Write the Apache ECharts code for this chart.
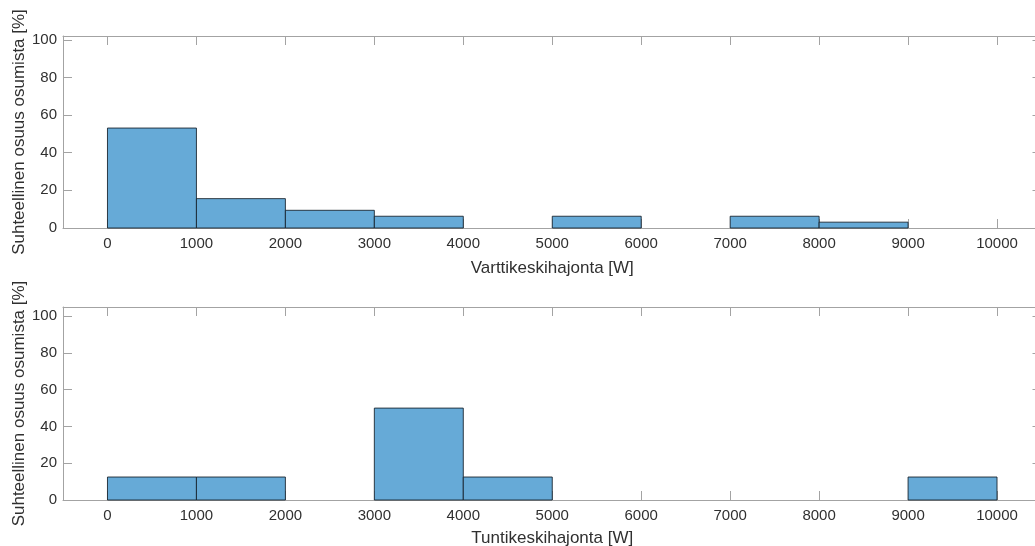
<!DOCTYPE html>
<html>
<head>
<meta charset="utf-8">
<script src="https://cdn.jsdelivr.net/npm/echarts@6/dist/echarts.min.js"></script>
<style>
    html, body { margin: 0; padding: 0; background: #fff; overflow: hidden; }
    #chart { width: 1042px; height: 546px; }
</style>
</head>
<body>
<div id="chart"></div>
<script>
// histogram bin edges (W) and relative shares (%)
const binEdges = [0, 1000, 2000, 3000, 4000, 5000, 6000, 7000, 8000, 9000, 10000]
const quarterShares = [53.1, 15.6, 9.4, 6.25, 0, 6.25, 0, 6.25, 3.1, 0]
const hourShares = [12.5, 12.5, 0, 50, 12.5, 0, 0, 0, 0, 12.5]
const xTicks = [0, 1000, 2000, 3000, 4000, 5000, 6000, 7000, 8000, 9000, 10000]
const yTicks = [0, 20, 40, 60, 80, 100]
const yNameText = 'Suhteellinen osuus osumista [%]'
const xNames = ['Varttikeskihajonta [W]', 'Tuntikeskihajonta [W]']

const font = 'Liberation Sans, Arial, Helvetica, sans-serif'
const textColor = '#303030'
const boxColor = '#a3a3a3'
const barFill = '#66aad7'

const chart = echarts.init(document.getElementById('chart'))

function binData(shares) {
    const out = []
    for (let i = 0; i < shares.length; i++) {
        if (shares[i] > 0) out.push([binEdges[i], binEdges[i + 1], shares[i]])
    }
    return out
}

function renderBin(params, api) {
    const p0 = api.coord([api.value(0), api.value(2)])
    const p1 = api.coord([api.value(1), 0])
    return {
        type: 'rect',
        shape: { x: p0[0], y: p0[1], width: p1[0] - p0[0], height: p1[1] - p0[1] },
        style: { fill: barFill, stroke: 'rgba(20,30,40,0.85)', lineWidth: 1 },
    }
}

const grids = [
    { left: 63, top: 36, width: 978.5, height: 192, outerBoundsMode: 'none', containLabel: false },
    { left: 63, top: 307, width: 978.5, height: 193, outerBoundsMode: 'none', containLabel: false },
]
const yMax = [102, 105]
const xNameGap = [32, 30]

const xAxis = []
const yAxis = []
const series = []
for (let g = 0; g < 2; g++) {
    // bottom x axis with labels
    xAxis.push({
        type: 'value', gridIndex: g, min: -500, max: 10500, position: 'bottom',
        splitLine: { show: false },
        axisLine: { show: true, onZero: false, lineStyle: { color: boxColor, width: 1 } },
        axisTick: { show: true, inside: true, length: 9, customValues: xTicks, lineStyle: { color: boxColor } },
        axisLabel: {
            customValues: xTicks, color: textColor, fontSize: 15, fontFamily: font, margin: 8,
            formatter: v => String(v),
        },
        name: xNames[g], nameLocation: 'middle', nameGap: xNameGap[g], nameMoveOverlap: false,
        nameTextStyle: { color: textColor, fontSize: 17, fontFamily: font },
    })
    // top x axis, ticks only (box)
    xAxis.push({
        type: 'value', gridIndex: g, min: -500, max: 10500, position: 'top',
        splitLine: { show: false },
        axisLine: { show: true, onZero: false, lineStyle: { color: boxColor, width: 1 } },
        axisTick: { show: true, inside: true, length: 9, customValues: xTicks, lineStyle: { color: boxColor } },
        axisLabel: { show: false },
    })
    yAxis.push({
        type: 'value', gridIndex: g, min: 0, max: yMax[g], position: 'left',
        splitLine: { show: false },
        axisLine: { show: true, onZero: false, lineStyle: { color: boxColor, width: 1 } },
        axisTick: { show: true, inside: true, length: 9, customValues: yTicks, lineStyle: { color: boxColor } },
        axisLabel: {
            customValues: yTicks, color: textColor, fontSize: 15, fontFamily: font, margin: 6,
            formatter: v => String(v),
        },
        name: yNameText, nameLocation: 'middle', nameGap: 44, nameMoveOverlap: false,
        nameTextStyle: { color: textColor, fontSize: 17, fontFamily: font, verticalAlign: 'middle' },
    })
    yAxis.push({
        type: 'value', gridIndex: g, min: 0, max: yMax[g], position: 'right',
        splitLine: { show: false },
        axisLine: { show: true, onZero: false, lineStyle: { color: boxColor, width: 1 } },
        axisTick: { show: true, inside: true, length: 9, customValues: yTicks, lineStyle: { color: boxColor } },
        axisLabel: { show: false },
    })
    series.push({
        type: 'custom',
        xAxisIndex: g * 2,
        yAxisIndex: g * 2,
        renderItem: renderBin,
        encode: { x: [0, 1], y: 2 },
        data: binData(g === 0 ? quarterShares : hourShares),
        silent: true,
    })
}

chart.setOption({
    animation: false,
    grid: grids,
    xAxis: xAxis,
    yAxis: yAxis,
    series: series,
})
</script>
</body>
</html>
